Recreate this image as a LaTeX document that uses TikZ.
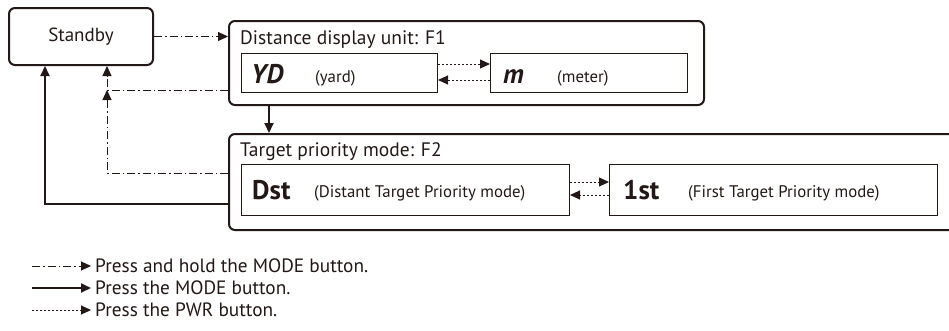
\documentclass[tikz,border=0pt]{standalone}
\usepackage{fontspec}
\setmainfont{PT Sans}
\usetikzlibrary{arrows.meta,positioning}
\definecolor{ink}{HTML}{231815}
\tikzstyle{panel}=[draw=ink,line width=2pt,rounded corners=6pt,anchor=north west,inner sep=0pt]
\tikzstyle{valuebox}=[draw=ink,line width=1pt,anchor=north west,inner sep=0pt]
\tikzstyle{title}=[anchor=base west,inner sep=0pt,font=\fontsize{19.5}{21}\selectfont,text=ink]
\tikzstyle{code}=[anchor=base west,inner sep=0pt,font=\fontsize{27}{29}\selectfont\bfseries,text=ink]
\tikzstyle{note}=[anchor=base west,inner sep=0pt,font=\fontsize{16.8}{18}\selectfont,text=ink]
\tikzstyle{legend}=[anchor=west,inner sep=0pt,font=\fontsize{19.3}{21}\selectfont,text=ink]
\tikzstyle{hold} = [draw=ink,line width=1pt,dash pattern=on 8pt off 3pt on 1.5pt off 3pt,-{Triangle[length=10pt,width=9pt]}]
\tikzstyle{press} = [draw=ink,line width=2pt,-{Triangle[length=10pt,width=9pt]}]
\tikzstyle{pwr} = [draw=ink,line width=1pt,dash pattern=on 2pt off 2pt,-{Triangle[length=10pt,width=9pt]}]

\begin{document}
\begin{tikzpicture}[x=1pt,y=-1pt]
    \useasboundingbox (0,0) rectangle (949,330);
    % The three panels
    \node[panel,minimum width=144pt,minimum height=57pt,font=\fontsize{19}{21}\selectfont,text=ink] (standby) at (8,7) {Standby};
    \node[panel,minimum width=475pt,minimum height=84pt] (f1) at (228,20) {};
    \node[panel,minimum width=760pt,minimum height=96pt] (f2) at (228,133) {};
    \node[title] (f1title) at (240,44) {Distance display unit: F1};
    \node[title] (f2title) at (240,156) {Target priority mode: F2};

    % Then the setting boxes inside them
    \foreach \pos/\name/\w/\h in {{(241,53)/yd/196/39}, {(490,53)/meter/197/39}, {(241,164)/dst/328/51}, {(609,164)/first/328/51}}
        \node[valuebox,minimum width=\w pt,minimum height=\h pt] (\name) at \pos {};
    \node[code] (ydcode) at (251,83) {\itshape YD};
    \node[note] (ydnote) at (315,82) {(yard)};
    \node[code] (mcode) at (503,83) {\itshape m};
    \node[note] (mnote) at (557,82) {(meter)};
    \node[code] (dstcode) at (252,199) {Dst};
    \node[note] (dstnote) at (314,197) {(Distant Target Priority mode)};
    \node[code] (firstcode) at (623,199) {1st};
    \node[note] (firstnote) at (688,197) {(First Target Priority mode)};

    % Connect the panels
    \coordinate (hj) at (107,90);
    \coordinate (hk) at (107,173);
    \coordinate (pj) at (45,204);
    \coordinate (dn) at (269,0);
    \draw[hold] (standby.east) -- (standby.east -| f1.west);
    \draw[hold] (f1.west |- hj) -- (hj) -- (hj |- standby.south);
    \draw[hold] (f2.west |- hk) -- (hk) -- (hj);
    \draw[press] (f2.west |- pj) -- (pj) -- (pj |- standby.south);
    \draw[press] (f1.south -| dn) -- (f2.north -| dn);
    \draw[pwr] ([yshift=9pt]yd.east) -- ([yshift=9pt]meter.west);
    \draw[pwr] ([yshift=-7pt]meter.west) -- ([yshift=-7pt]yd.east);
    \draw[pwr] ([yshift=8pt]dst.east) -- ([yshift=8pt]first.west);
    \draw[pwr] ([yshift=-5pt]first.west) -- ([yshift=-5pt]dst.east);

    % Legend
    \foreach \y/\sty/\name/\txt in {266/hold/lgA/Press and hold the MODE button., 288/press/lgB/Press the MODE button., 310/pwr/lgC/Press the PWR button.} {
        \coordinate (\name-start) at (32,\y);
        \node[legend] (\name) at (95,\y) {\txt};
        \draw[\sty] (\name-start) -- ([xshift=-4pt]\name.west);
    }
\end{tikzpicture}
\end{document}
